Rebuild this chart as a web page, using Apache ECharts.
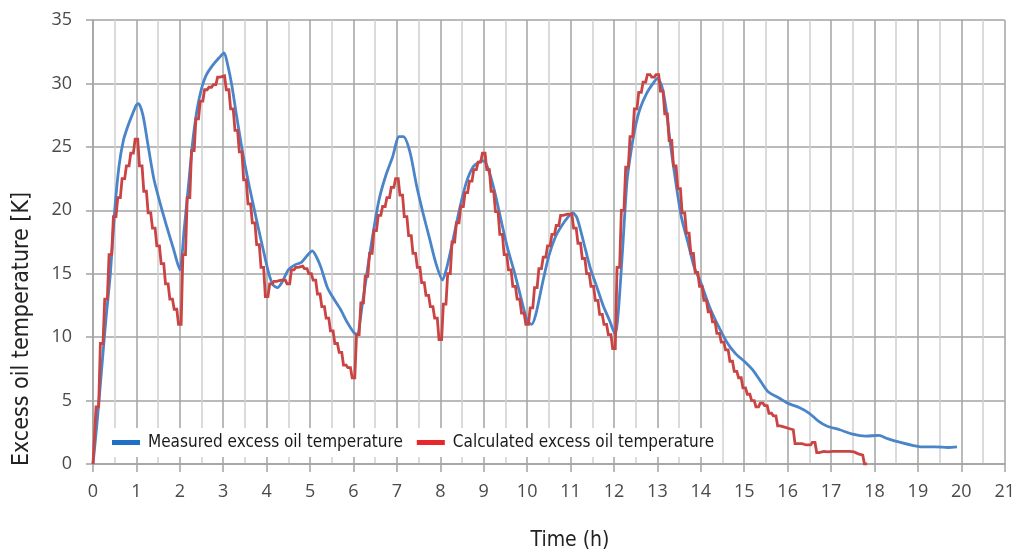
<!DOCTYPE html>
<html>
<head>
<meta charset="utf-8">
<script src="https://cdn.jsdelivr.net/npm/echarts@6/dist/echarts.min.js"></script>
<style>
html,body{margin:0;padding:0;background:#fff;}
#chart{width:1018px;height:554px;}
</style>
</head>
<body>
<div id="chart"></div>
<script>
// ---- data ----
var xTicks = [0,1,2,3,4,5,6,7,8,9,10,11,12,13,14,15,16,17,18,19,20,21];
var yTicks = [0,5,10,15,20,25,30,35];
var seriesNames = ['Measured excess oil temperature', 'Calculated excess oil temperature'];

// measured: time (h) and temperature (K)
var measuredTime = [0,0.1,0.2,0.3,0.4,0.5,0.6,0.7,0.8,0.9,1.0,1.05,1.15,1.25,1.4,1.55,1.7,1.85,2.0,2.1,2.2,2.3,2.4,2.5,2.6,2.75,2.9,3.02,3.1,3.2,3.3,3.45,3.6,3.75,3.9,4.05,4.15,4.25,4.35,4.5,4.65,4.8,4.95,5.05,5.15,5.25,5.4,5.55,5.7,5.85,6.0,6.08,6.2,6.35,6.5,6.6,6.75,6.9,7.05,7.15,7.3,7.45,7.6,7.75,7.9,8.05,8.15,8.3,8.45,8.6,8.75,8.9,9.0,9.1,9.25,9.4,9.55,9.7,9.85,10.0,10.1,10.2,10.35,10.5,10.65,10.8,10.95,11.05,11.15,11.3,11.45,11.6,11.75,11.9,12.03,12.1,12.2,12.3,12.4,12.5,12.6,12.75,12.9,13.0,13.1,13.2,13.3,13.42,13.55,13.7,13.85,14.0,14.2,14.4,14.6,14.8,15.0,15.2,15.4,15.55,15.8,16.0,16.3,16.5,16.7,16.9,17.2,17.5,17.8,18.1,18.3,18.6,18.9,19.1,19.4,19.7,19.9];
var measuredTemp = [0,3.5,7.5,11.5,15,20,23.5,25.5,26.6,27.5,28.3,28.4,27.5,25.5,22.5,20.5,18.7,17,15.3,18.5,22,25.5,28,29.6,30.6,31.4,32,32.4,31.5,29.8,27.6,24.5,21.9,19.5,17.2,15,14.1,13.9,14.3,15.3,15.7,15.9,16.5,16.8,16.3,15.5,13.9,13,12.2,11.2,10.4,10.2,12.5,16,19.2,21,22.8,24.2,25.8,25.8,24.6,22,19.8,17.8,15.8,14.5,15.5,17.8,20.2,22.2,23.4,23.8,23.9,23.3,21.5,19.2,17,15.2,13.2,11.3,11.0,11.8,14.2,16.4,17.9,18.8,19.5,19.8,19.4,17.5,15.5,14,12.5,11.3,10.2,12,17,22.3,24.8,26.7,28,29.2,30,30.4,29.8,28,25.2,22.3,19.5,17.5,15.5,14.3,12.4,10.9,9.6,8.7,8.1,7.4,6.4,5.7,5.2,4.8,4.4,4.0,3.4,3.0,2.7,2.35,2.2,2.25,2.0,1.7,1.45,1.35,1.35,1.3,1.35];

// calculated: one value per 0.1 h step, starting at 0 h
var calcStartTime = 0;
var calcStepTime = 0.1;
var calcTemp = [
 0,4.5,9.5,13,16.5,19.5,21,22.5,23.5,24.5,
 25.6,23.5,21.5,19.8,18.6,17.2,15.8,14.2,13,12.2,
 11,16.5,21,24.7,27.2,28.6,29.5,29.7,29.9,30.5,
 30.6,29.5,28,26.3,24.6,22.4,20.5,19,17.3,15.5,
 13.2,14.2,14.4,14.5,14.5,14.2,15.3,15.5,15.6,15.4,
 15.0,14.5,13.4,12.4,11.5,10.5,9.5,8.8,7.8,7.6,
 6.8,10.2,12.7,14.8,16.6,18.4,19.6,20.3,21,21.8,
 22.5,21.2,19.5,18,16.6,15.5,14.3,13.3,12.4,11.5,
 9.8,12.6,15,17.5,19,20.3,21.4,22.3,23.2,23.8,
 24.5,23.2,21.5,19.9,18.1,16.5,15.3,14,13,11.9,
 11.0,12.3,13.9,15.4,16.3,17.2,18.1,18.8,19.6,19.7,
 19.7,18.6,17.4,16.2,15,14,12.9,11.8,11,10.2,
 9.1,15.5,20,23.4,25.8,28,29.3,30.1,30.7,30.5,
 30.7,29.4,27.6,25.5,23.5,21.7,19.8,18.2,16.6,15.1,
 14,12.9,12,11.2,10.3,9.6,9,8.1,7.3,6.8,
 6,5.5,5.0,4.5,4.8,4.6,4.0,3.8,3.0,2.9,
 2.8,2.7,1.6,1.6,1.5,1.5,1.7,0.9,1.0,0.95,
 1.0,1.0,1.0,1.0,1.0,0.95,0.8,0.7,0
];

// ---- build ----
var measuredData = measuredTime.map(function (t, i) { return [t, measuredTemp[i]]; });
// each calculated value is held as a short plateau around its time stamp (staircase look)
var calcData = [];
calcTemp.forEach(function (v, i) {
  var t = calcStartTime + i * calcStepTime;
  var half = calcStepTime * 0.3;
  calcData.push([Math.max(0, +(t - half).toFixed(3)), v]);
  calcData.push([+(t + half).toFixed(3), v]);
});
calcData[0] = [0, calcTemp[0]];

var narrow = '"Liberation Sans Narrow", "DejaVu Sans Condensed", "Roboto Condensed", Arial, sans-serif';
var tickFont = '"Open Sans", "Noto Sans", sans-serif';
var gridColor = '#a3a3a3';

var chart = echarts.init(document.getElementById('chart'), null, {renderer: 'canvas'});
chart.setOption({
  animation: false,
  backgroundColor: '#ffffff',
  grid: {left: 93, right: 11, top: 20, bottom: 90, containLabel: false},
  xAxis: {
    type: 'value', min: xTicks[0], max: xTicks[xTicks.length - 1], interval: 1,
    axisLine: {show: true, lineStyle: {color: gridColor, width: 1.5}},
    axisTick: {show: true, length: 8, lineStyle: {color: gridColor, width: 1.5}},
    axisLabel: {margin: 19, color: '#4a4a4a', fontSize: 18, fontFamily: tickFont},
    splitLine: {show: true, lineStyle: {color: gridColor, width: 1.5}},
    minorTick: {show: false, splitNumber: 2},
    minorSplitLine: {show: true, lineStyle: {color: '#d0d0d0', width: 1.5}}
  },
  yAxis: {
    type: 'value', min: yTicks[0], max: yTicks[yTicks.length - 1], interval: 5,
    axisLine: {show: true, lineStyle: {color: gridColor, width: 1.5}},
    axisTick: {show: true, length: 7, lineStyle: {color: gridColor, width: 1.5}},
    axisLabel: {margin: 21, color: '#4a4a4a', fontSize: 18, fontFamily: tickFont},
    splitLine: {show: true, lineStyle: {color: gridColor, width: 1.5}}
  },
  legend: {
    left: 104, top: 428,
    backgroundColor: '#ffffff',
    padding: [6, 8, 6, 8],
    itemGap: 14,
    itemWidth: 28, itemHeight: 5,
    icon: 'rect',
    textStyle: {fontFamily: narrow, fontSize: 17, color: '#1a1a1a', padding: [0, 0, 0, 3]},
    data: [
      {name: seriesNames[0], itemStyle: {color: '#1f6fc4'}},
      {name: seriesNames[1], itemStyle: {color: '#e8262b'}}
    ]
  },
  graphic: [
    {type: 'text', x: 22, y: 329, rotation: Math.PI / 2,
     style: {text: 'Excess oil temperature [K]', font: '23px ' + narrow, fill: '#222222', textAlign: 'center', textVerticalAlign: 'middle'}},
    {type: 'text', x: 570, y: 541,
     style: {text: 'Time (h)', font: '21px ' + narrow, fill: '#222222', textAlign: 'center', textVerticalAlign: 'middle'}}
  ],
  series: [
    {
      name: seriesNames[0], type: 'line', data: measuredData,
      smooth: 0.25, showSymbol: false, symbol: 'none',
      lineStyle: {color: '#4a84c9', width: 2.8},
      itemStyle: {color: '#4a84c9'}
    },
    {
      name: seriesNames[1], type: 'line', data: calcData,
      showSymbol: false, symbol: 'none',
      lineStyle: {color: '#c94442', width: 2.8, join: 'miter'},
      itemStyle: {color: '#c94442'}
    }
  ]
});
</script>
</body>
</html>
